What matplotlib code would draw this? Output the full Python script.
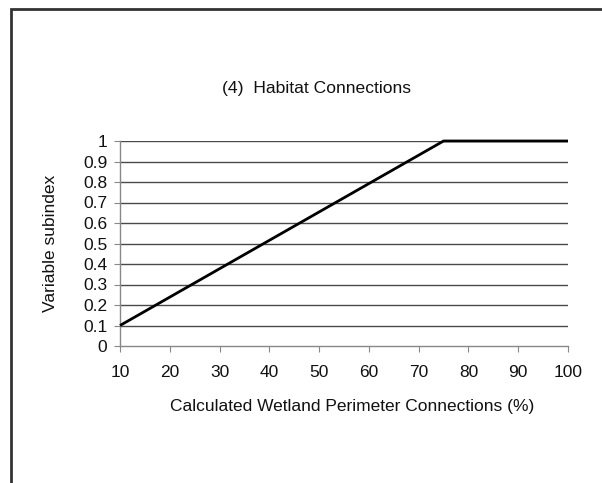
import matplotlib
matplotlib.use("Agg")
import matplotlib.pyplot as plt
from matplotlib.patches import Rectangle

# Subindex curve breakpoints
connections_pct = [10, 75, 100]
subindex = [0.1, 1.0, 1.0]

x_ticks = [10, 20, 30, 40, 50, 60, 70, 80, 90, 100]
y_ticks = [0, 0.1, 0.2, 0.3, 0.4, 0.5, 0.6, 0.7, 0.8, 0.9, 1]
y_tick_labels = ["0", "0.1", "0.2", "0.3", "0.4", "0.5", "0.6", "0.7", "0.8", "0.9", "1"]

plt.rcParams['font.family'] = ['Liberation Sans', 'DejaVu Sans']

fig = plt.figure(figsize=(6.02, 4.83), dpi=100)
W, H = 602, 483

# Outer frame (runs off the right and bottom edges)
fig.patches.append(Rectangle((11 / W, -0.1), 1.2, (H - 9) / H + 0.1,
                             transform=fig.transFigure, fill=False,
                             edgecolor="#333333", linewidth=2.0))

ax = fig.add_axes([120 / W, 1 - 346 / H, (568 - 120) / W, (346 - 141) / H])
ax.set_xlim(10, 100)
ax.set_ylim(0, 1)

for y in y_ticks[1:]:
    ax.axhline(y, color="#4a4a4a", linewidth=1.0, zorder=1)

ax.plot(connections_pct, subindex, color="black", linewidth=2.0,
        solid_capstyle="butt", zorder=3, clip_on=False)

for side in ("top", "right"):
    ax.spines[side].set_visible(False)
for side in ("left", "bottom"):
    ax.spines[side].set_color("#888888")
    ax.spines[side].set_linewidth(1.0)

ax.set_xticks(x_ticks)
ax.set_xticklabels([str(v) for v in x_ticks])
ax.set_yticks(y_ticks)
ax.set_yticklabels(y_tick_labels)
ax.tick_params(axis="both", direction="out", length=4, color="#888888",
               labelsize=12.5, labelcolor="#111111")
ax.tick_params(axis="x", pad=10)
ax.tick_params(axis="y", pad=5)

ax.set_xlabel("Calculated Wetland Perimeter Connections (%)", fontsize=12.5,
              color="#111111")
ax.xaxis.set_label_coords((352 - 120) / (568 - 120), -0.26)
ax.set_ylabel("Variable subindex", fontsize=12.5, color="#111111", labelpad=18)

fig.text(316 / W, 1 - 88 / H, "(4)  Habitat Connections", fontsize=12.6,
         color="#111111", ha="center", va="center")

fig.savefig("out.png", dpi=100)
